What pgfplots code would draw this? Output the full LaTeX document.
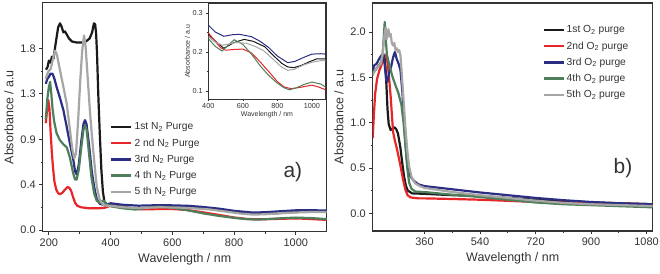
\documentclass[border=0pt]{standalone}
\usepackage{fontspec}
\setmainfont{Liberation Sans}
\usepackage{pgfplots}
\pgfplotsset{compat=1.18}
\definecolor{cblack}{HTML}{1A1A1A}
\definecolor{cred}{HTML}{E8262A}
\definecolor{cblue}{HTML}{2B2E83}
\definecolor{cgreen}{HTML}{4E7F5A}
\definecolor{cgray}{HTML}{A6A6A6}
\definecolor{axc}{HTML}{333333}
\pgfplotsset{
  mainax/.style={
    scale only axis,
    axis line style={axc, line width=1.3bp},
    tick align=outside, tick pos=left,
    major tick length=3.5bp, minor tick length=2bp,
    every tick/.style={axc, line width=0.9bp},
    tick label style={font=\fontsize{11}{13}\selectfont, text=axc},
    label style={font=\fontsize{12.5}{14}\selectfont, text=axc},
    /pgf/number format/assume math mode=true,
    /pgf/number format/set thousands separator={},
    legend style={draw=none, fill=none, font=\fontsize{10.3}{12}\selectfont, text=axc,
      anchor=north west, row sep=3.3bp, inner sep=0pt},
    legend cell align=left,
    legend image code/.code={\draw[#1, line width=2.4bp] (0bp,0bp) -- (20bp,0bp);},
    every axis plot/.append style={line width=2.2bp, line join=round},
  },
}
\begin{document}
\begin{tikzpicture}
\useasboundingbox (0,0) rectangle (660bp,274bp);
% ---------------- panel a ----------------
\begin{axis}[mainax,
  at={(42.7bp,42.3bp)}, anchor=south west,
  width=284bp, height=229bp,
  xmin=180, xmax=1100, ymin=-0.017, ymax=2.255,
  xtick={200,400,600,800,1000}, minor x tick num=1,
  ytick={0,0.45,0.9,1.35,1.8}, yticklabels={0.0,0.4,0.9,1.3,1.8}, minor y tick num=1,
  xlabel={Wavelength / nm}, ylabel={Absorbance / a.u},
  legend style={at={(rel axis cs:0.237,0.485)}},
]
\addplot[cblack] coordinates {
(191,1.59)(196,1.62)(200,1.68)(205,1.66)(210,1.72)(215,1.70)(222,1.85)(230,2.01)(236,2.05)(241,2.02)(247,1.96)(252,1.97)(258,1.94)(265,1.90)(275,1.87)(290,1.86)(305,1.86)(320,1.87)(332,1.90)(340,1.96)(346,2.05)(350,2.04)(353,1.95)(356,1.75)(360,1.35)(365,0.95)(370,0.60)(375,0.38)(380,0.28)(390,0.25)(400,0.245)(450,0.225)(490,0.21)(550,0.225)(608,0.233)(660,0.228)(727,0.214)(780,0.19)(826,0.171)(860,0.162)(895,0.16)(940,0.166)(984,0.175)(1030,0.183)(1100,0.183)};
\addlegendentry{1st N\textsubscript{2} Purge}
\addplot[cred] coordinates {
(190,1.06)(195,1.22)(198,1.29)(202,1.20)(206,0.95)(210,0.75)(214,0.60)(218,0.48)(224,0.40)(230,0.365)(236,0.355)(244,0.37)(252,0.40)(260,0.425)(266,0.42)(272,0.39)(278,0.33)(285,0.27)(292,0.24)(305,0.225)(330,0.215)(360,0.215)(380,0.22)(390,0.23)(400,0.24)(430,0.23)(470,0.212)(500,0.205)(550,0.207)(600,0.208)(650,0.198)(700,0.175)(750,0.15)(800,0.124)(840,0.11)(880,0.106)(930,0.109)(1000,0.115)(1040,0.11)(1100,0.10)};
\addlegendentry{2 nd N\textsubscript{2} Purge}
\addplot[cblue] coordinates {
(190,1.45)(195,1.50)(200,1.52)(205,1.55)(212,1.55)(218,1.50)(225,1.42)(235,1.32)(247,1.19)(258,1.02)(268,0.86)(279,0.70)(285,0.58)(290,0.55)(297,0.65)(305,0.88)(312,1.05)(317,1.09)(322,1.05)(330,0.85)(339,0.58)(347,0.42)(355,0.31)(365,0.26)(380,0.245)(400,0.265)(440,0.25)(490,0.241)(540,0.245)(580,0.246)(650,0.24)(700,0.228)(750,0.212)(800,0.19)(860,0.173)(900,0.176)(950,0.186)(1000,0.195)(1050,0.196)(1100,0.193)};
\addlegendentry{3rd N\textsubscript{2} Purge}
\addplot[cgreen] coordinates {
(190,1.10)(195,1.30)(200,1.42)(204,1.47)(208,1.35)(212,1.20)(217,1.08)(225,0.96)(236,0.89)(247,0.85)(258,0.82)(268,0.72)(279,0.56)(285,0.50)(290,0.50)(297,0.60)(305,0.82)(312,0.99)(317,1.04)(322,1.00)(330,0.76)(338,0.52)(347,0.36)(355,0.29)(365,0.27)(373,0.29)(378,0.29)(385,0.26)(400,0.235)(440,0.215)(480,0.203)(520,0.22)(550,0.232)(600,0.22)(650,0.195)(700,0.165)(750,0.14)(800,0.12)(840,0.108)(870,0.103)(910,0.108)(950,0.116)(1000,0.123)(1050,0.118)(1100,0.108)};
\addlegendentry{4 th N\textsubscript{2} Purge}
\addplot[cgray] coordinates {
(190,1.50)(195,1.55)(200,1.58)(206,1.60)(212,1.68)(220,1.78)(226,1.74)(235,1.60)(245,1.45)(258,1.25)(268,1.00)(276,0.80)(282,0.71)(288,0.76)(295,1.10)(302,1.50)(308,1.78)(314,1.93)(319,1.82)(326,1.50)(333,1.18)(339,0.95)(347,0.68)(355,0.43)(365,0.30)(375,0.25)(390,0.24)(400,0.24)(440,0.226)(480,0.218)(520,0.221)(560,0.225)(620,0.223)(670,0.215)(720,0.204)(780,0.18)(820,0.163)(860,0.153)(900,0.156)(950,0.167)(1000,0.174)(1050,0.178)(1100,0.178)};
\addlegendentry{5 th N\textsubscript{2} Purge}
\node[font=\fontsize{21}{23}\selectfont, text=axc] at (rel axis cs:0.881,0.261) {a)};
\end{axis}
% ---------------- inset ----------------
\begin{axis}[
  at={(208.3bp,174.7bp)}, anchor=south west, scale only axis,
  width=117.4bp, height=96bp,
  axis background/.style={fill=white},
  axis line style={axc, line width=1bp},
  tick align=outside, tick pos=left,
  major tick length=2bp, minor tick length=1.2bp,
  every tick/.style={axc, line width=0.6bp},
  xmin=400, xmax=1080, ymin=0.0785, ymax=0.326,
  xtick={400,600,800,1000}, minor x tick num=1,
  ytick={0.1,0.2,0.3}, yticklabels={0.1,0.2,0.3}, minor y tick num=1,
  tick label style={font=\fontsize{7.3}{8}\selectfont, text=axc},
  label style={font=\fontsize{7}{8}\selectfont, text=axc},
  /pgf/number format/assume math mode=true,
  /pgf/number format/set thousands separator={},
  xlabel={Wavelength / nm}, ylabel={Absorbance / a.u},
  xlabel style={yshift=4bp}, ylabel style={yshift=-4bp},
  x tick label style={yshift=1bp},
  every axis plot/.append style={line width=1bp},
]
\addplot[cblack] coordinates {(400,0.245)(450,0.225)(490,0.21)(550,0.225)(608,0.233)(660,0.228)(727,0.214)(780,0.19)(826,0.171)(860,0.162)(895,0.16)(940,0.166)(984,0.175)(1030,0.183)(1080,0.183)};
\addplot[cred] coordinates {(400,0.25)(430,0.233)(470,0.212)(500,0.205)(550,0.207)(600,0.208)(650,0.198)(700,0.175)(750,0.15)(800,0.124)(840,0.11)(880,0.106)(930,0.109)(1000,0.115)(1040,0.11)(1080,0.103)};
\addplot[cblue] coordinates {(400,0.27)(440,0.252)(490,0.241)(540,0.245)(580,0.246)(650,0.24)(700,0.228)(750,0.212)(800,0.19)(860,0.173)(900,0.176)(950,0.186)(1000,0.195)(1050,0.196)(1080,0.195)};
\addplot[cgreen] coordinates {(400,0.235)(440,0.215)(480,0.203)(520,0.22)(550,0.232)(600,0.22)(650,0.195)(700,0.165)(750,0.14)(800,0.12)(840,0.108)(870,0.103)(910,0.108)(950,0.116)(1000,0.123)(1050,0.118)(1080,0.11)};
\addplot[cgray] coordinates {(400,0.24)(440,0.226)(480,0.218)(520,0.221)(560,0.225)(620,0.223)(670,0.215)(720,0.204)(780,0.18)(820,0.163)(860,0.153)(900,0.156)(950,0.167)(1000,0.174)(1050,0.178)(1080,0.178)};
\end{axis}
% ---------------- panel b ----------------
\begin{axis}[mainax,
  at={(372.7bp,43bp)}, anchor=south west,
  width=280bp, height=228bp,
  xmin=192, xmax=1100, ymin=-0.195, ymax=2.32,
  xtick={360,540,720,900,1080}, minor x tick num=1,
  ytick={0,0.5,1.0,1.5,2.0}, yticklabels={0.0,0.5,1.0,1.5,2.0}, minor y tick num=1,
  xlabel={Wavelength / nm}, ylabel={Absorbance / a.u},
  legend style={at={(rel axis cs:0.605,0.91)}},
]
\addplot[cblack] coordinates {
(192,1.55)(200,1.58)(210,1.62)(220,1.66)(228,1.72)(232,1.70)(236,1.45)(240,1.15)(244,0.98)(250,0.92)(256,0.93)(262,0.95)(268,0.93)(274,0.88)(282,0.72)(288,0.55)(294,0.40)(300,0.30)(306,0.25)(320,0.22)(360,0.215)(450,0.20)(540,0.19)(630,0.17)(720,0.15)(810,0.135)(900,0.12)(1000,0.11)(1100,0.10)};
\addlegendentry{1st O\textsubscript{2} purge}
\addplot[cred] coordinates {
(192,0.83)(196,1.10)(200,1.32)(206,1.48)(214,1.58)(222,1.65)(230,1.71)(236,1.75)(240,1.68)(245,1.50)(250,1.30)(254,1.10)(258,0.90)(264,0.80)(270,0.72)(280,0.56)(290,0.38)(298,0.26)(305,0.20)(315,0.175)(340,0.165)(360,0.165)(450,0.158)(540,0.15)(630,0.138)(720,0.125)(810,0.118)(900,0.113)(1000,0.107)(1100,0.10)};
\addlegendentry{2nd O\textsubscript{2} purge}
\addplot[cblue] coordinates {
(192,1.55)(196,1.63)(205,1.65)(212,1.70)(220,1.74)(227,1.76)(232,1.60)(236,1.47)(240,1.45)(245,1.55)(252,1.62)(258,1.72)(264,1.78)(270,1.70)(276,1.65)(282,1.58)(288,1.35)(294,1.00)(300,0.70)(306,0.50)(314,0.41)(325,0.36)(340,0.32)(360,0.30)(450,0.265)(540,0.23)(630,0.20)(720,0.17)(810,0.145)(900,0.125)(1000,0.11)(1100,0.10)};
\addlegendentry{3rd O\textsubscript{2} purge}
\addplot[cgreen] coordinates {
(192,1.55)(200,1.58)(210,1.62)(218,1.66)(224,1.75)(228,1.95)(231,2.11)(234,1.95)(238,1.75)(245,1.65)(255,1.52)(265,1.42)(275,1.33)(285,1.20)(292,1.00)(298,0.75)(304,0.50)(310,0.34)(318,0.27)(330,0.24)(360,0.235)(450,0.205)(540,0.18)(630,0.15)(720,0.12)(810,0.10)(900,0.09)(1000,0.078)(1100,0.066)};
\addlegendentry{4th O\textsubscript{2} purge}
\addplot[cgray] coordinates {
(192,1.52)(200,1.58)(210,1.62)(218,1.65)(224,1.75)(228,1.90)(231,1.98)(234,2.05)(237,1.92)(240,1.97)(243,2.03)(246,1.95)(250,1.98)(254,1.88)(258,1.85)(262,1.88)(266,1.80)(270,1.82)(274,1.78)(278,1.80)(282,1.74)(286,1.55)(292,1.25)(298,0.95)(304,0.70)(310,0.52)(318,0.40)(330,0.33)(345,0.30)(360,0.28)(450,0.235)(540,0.20)(630,0.17)(720,0.14)(810,0.115)(900,0.10)(1000,0.09)(1100,0.08)};
\addlegendentry{5th O\textsubscript{2} purge}
\node[font=\fontsize{21}{23}\selectfont, text=axc] at (rel axis cs:0.894,0.276) {b)};
\end{axis}
\end{tikzpicture}
\end{document}
